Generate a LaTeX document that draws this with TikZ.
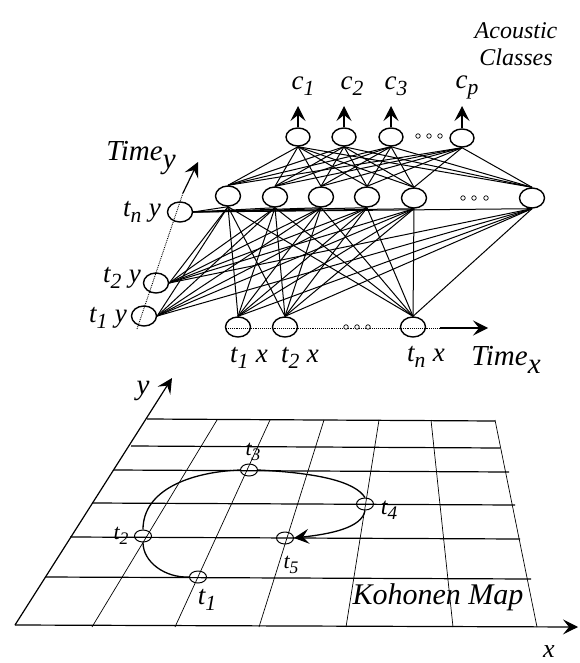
\documentclass[tikz,border=0pt]{standalone}
\usepackage{fontspec}
\setmainfont{Liberation Serif}
\usetikzlibrary{
  arrows.meta,
  shapes.geometric
}
\newcommand{\tlab}[2]{\textit{#1\raisebox{-0.22em}{\scalebox{0.8}{#2}}}}
\newcommand{\timelab}[1]{\textit{Time\raisebox{-0.3em}{#1}}}

\begin{document}
\begin{tikzpicture}[
      x=1pt, y=-1pt,
      >={Stealth[length=15pt,width=15pt,inset=6pt]},
      unit/.style={draw, ellipse, line width=1.4pt, inner sep=0pt,
                   minimum width=25pt, minimum height=20pt},
      tmark/.style={draw, ellipse, line width=1pt, inner sep=0pt,
                   minimum width=17pt, minimum height=12pt},
      tinydot/.style={draw, circle, line width=0.7pt, inner sep=0pt, minimum size=4.5pt},
      link/.style={line width=1pt},
      seta/.style={->, line width=1.2pt},
      axisdots/.style={line width=0.9pt, densely dotted},
      gridh/.style={line width=1.2pt},
      gridv/.style={line width=0.7pt},
      lab/.style={inner sep=0pt, font=\fontsize{27}{28}\selectfont},
      smalllab/.style={inner sep=0pt, font=\fontsize{22}{23}\selectfont}
  ]
      \useasboundingbox (0,0) rectangle (579,663);

      % --- OUTPUT LAYER ---
      \node[unit, minimum width=24pt, minimum height=18pt] (c1) at (298,137) {};
      \node[unit, minimum width=24pt, minimum height=18pt] (c2) at (344,137) {};
      \node[unit, minimum width=24pt, minimum height=18pt] (c3) at (391,137) {};
      \node[unit, minimum width=24pt, minimum height=18pt] (c4) at (462,138) {};
      \foreach \i/\x in {1/298,2/344,3/391,4/462} {
          \coordinate (o\i) at (\x,106);
          \draw[seta] (c\i) -- (o\i);
      }
      \node[lab] (lc1) at (303,86) {\tlab{c}{1}};
      \node[lab] (lc2) at (352,86) {\tlab{c}{2}};
      \node[lab] (lc3) at (396,86) {\tlab{c}{3}};
      \node[lab] (lc4) at (467,87) {\tlab{c}{p}};
      \node[lab, align=center, font=\fontsize{24}{27}\selectfont\itshape] (title) at (516,44) {Acoustic\\Classes};

      % --- HIDDEN LAYER ---
      \node[unit] (h1) at (228,196) {};
      \node[unit] (h2) at (275,197) {};
      \node[unit] (h3) at (321,197) {};
      \node[unit] (h4) at (367,197) {};
      \node[unit] (h5) at (414,198) {};
      \node[unit] (h6) at (532,198) {};

      % --- INPUT AXES ---
      \node[unit] (ty3) at (180,212) {};
      \node[unit] (ty2) at (156,283) {};
      \node[unit] (ty1) at (144,316) {};
      \node[unit] (tx1) at (238,327) {};
      \node[unit] (tx2) at (285,327) {};
      \node[unit] (tx3) at (413,327) {};

      \coordinate (ya) at (137,329);
      \coordinate (yb) at (183,193);
      \coordinate (yc) at (198,162);
      \coordinate (xa) at (226,328);
      \coordinate (xb) at (440,328);
      \coordinate (xc) at (488,328);
      \draw[axisdots] (ya) -- (yb);
      \draw[seta] (yb) -- (yc);
      \draw[axisdots] (xa) -- (xb);
      \draw[seta] (xb) -- (xc);

      % --- CONNECTIONS ---
      \foreach \h in {1,...,6} {
          \foreach \c in {1,...,4} {
              \draw[link] (c\c.south) -- (h\h.north);
          }
          \foreach \t in {1,2,3} {
              \draw[link] (ty\t.east) -- (h\h.south);
              \draw[link] (tx\t.north) -- (h\h.south);
          }
      }

      % --- DOTS ---
      \foreach \i/\x in {1/418,2/429,3/440} \node[tinydot] (da\i) at (\x,136) {};
      \foreach \i/\x in {1/463,2/474,3/486} \node[tinydot] (db\i) at (\x,198) {};
      \foreach \i/\x in {1/346,2/357,3/368} \node[tinydot, fill=white] (dc\i) at (\x,327) {};

      % --- AXIS LABELS ---
      \node[lab] (ly3) at (142,212) {\tlab{t}{n}\;\textit{y}};
      \node[lab] (ly2) at (122,278) {\tlab{t}{2}\;\textit{y}};
      \node[lab] (ly1) at (108,318) {\tlab{t}{1}\;\textit{y}};
      \node[lab] (lx1) at (249,358) {\tlab{t}{1}\;\textit{x}};
      \node[lab] (lx2) at (300,358) {\tlab{t}{2}\;\textit{x}};
      \node[lab] (lx3) at (426,357) {\tlab{t}{n}\;\textit{x}};
      \node[lab, font=\fontsize{29}{30}\selectfont] (ltimey) at (141,158) {\timelab{y}};
      \node[lab, font=\fontsize{29}{30}\selectfont] (ltimex) at (506,360) {\timelab{x}};

      % --- KOHONEN MAP ---
      \foreach \xa/\xb/\ya in {147/495/419,131/500/446,114/509/470,92/515/503,70/520/537,45/531/577} {
          \draw[gridh] (\xa,\ya) -- (\xb,\ya+2);
      }
      \foreach \xa/\xb in {217/92,270/175,324/259,379/346,431/453,495/537} {
          \draw[gridv] (\xa,420) -- (\xb,627);
      }

      \coordinate (origin) at (15,625);
      \coordinate (yend) at (172,378);
      \coordinate (xend) at (578,627);
      \draw[seta] (origin) -- (yend);
      \draw[seta] (origin) -- (xend);

      \node[tmark] (t1) at (198,577) {};
      \node[tmark] (t2) at (143,536) {};
      \node[tmark] (t3) at (249,470) {};
      \node[tmark] (t4) at (365,504) {};
      \node[tmark] (t5) at (285,538) {};

      \draw[line width=1.3pt] (t1.west) .. controls (165,578) and (143,562) .. (t2.south);
      \draw[line width=1.3pt] (t2.north) .. controls (143,490) and (190,472) .. (t3.west);
      \draw[line width=1.3pt] (t3.east) .. controls (320,473) and (355,482) .. (t4.north);
      \draw[seta, line width=1.3pt] (t4.south) .. controls (362,528) and (330,534) .. (t5.east);

      \node[lab] (lt1) at (207,600) {\tlab{t}{1}};
      \node[smalllab] (lt2) at (121,536) {\tlab{t}{2}};
      \node[smalllab] (lt3) at (253,452) {\tlab{t}{3}};
      \node[lab, font=\fontsize{24}{25}\selectfont] (lt4) at (389,510) {\tlab{t}{4}};
      \node[smalllab] (lt5) at (291,565) {\tlab{t}{5}};

      \node[lab, font=\fontsize{30}{31}\selectfont\itshape] (kmap) at (438,597) {Kohonen Map};
      \node[lab, font=\fontsize{29}{30}\selectfont\itshape] (ly) at (143,391) {y};
      \node[lab, font=\fontsize{26}{27}\selectfont\itshape] (lx) at (549,652) {x};
  \end{tikzpicture}
\end{document}
